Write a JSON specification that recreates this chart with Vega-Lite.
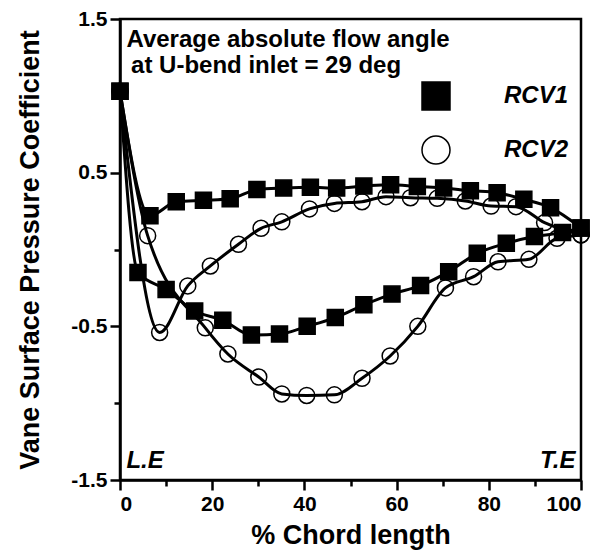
{
  "$schema": "https://vega.github.io/schema/vega-lite/v6.json",
  "width": 461,
  "height": 461,
  "autosize": {"type": "none"},
  "padding": {"left": 120, "top": 19, "right": 35, "bottom": 76},
  "background": "white",
  "config": {
    "font": "Liberation Sans",
    "view": {"stroke": "black", "strokeWidth": 2.5},
    "axis": {
      "grid": false,
      "domainColor": "black",
      "domainWidth": 2.5,
      "tickColor": "black",
      "tickWidth": 2.5,
      "labelFont": "Liberation Sans",
      "labelFontWeight": "bold",
      "labelFontSize": 21,
      "labelColor": "black",
      "titleFont": "Liberation Sans",
      "titleFontWeight": "bold",
      "titleFontSize": 27,
      "titleColor": "black"
    }
  },
  "datasets": {
    "curves": [
      {"s": "RCV2", "c": "RCV2-a", "x": 0, "y": 1.03},
      {"s": "RCV2", "c": "RCV2-a", "x": 6.0, "y": 0.09},
      {"s": "RCV2", "c": "RCV2-a", "x": 18.5, "y": -0.51},
      {"s": "RCV2", "c": "RCV2-a", "x": 23.4, "y": -0.68},
      {"s": "RCV2", "c": "RCV2-a", "x": 30.1, "y": -0.83},
      {"s": "RCV2", "c": "RCV2-a", "x": 35.1, "y": -0.94},
      {"s": "RCV2", "c": "RCV2-a", "x": 40.5, "y": -0.95},
      {"s": "RCV2", "c": "RCV2-a", "x": 46.5, "y": -0.946},
      {"s": "RCV2", "c": "RCV2-a", "x": 52.5, "y": -0.838},
      {"s": "RCV2", "c": "RCV2-a", "x": 58.6, "y": -0.693},
      {"s": "RCV2", "c": "RCV2-a", "x": 64.6, "y": -0.5},
      {"s": "RCV2", "c": "RCV2-a", "x": 70.6, "y": -0.25},
      {"s": "RCV2", "c": "RCV2-a", "x": 76.7, "y": -0.177},
      {"s": "RCV2", "c": "RCV2-a", "x": 82.0, "y": -0.08},
      {"s": "RCV2", "c": "RCV2-a", "x": 88.7, "y": -0.064},
      {"s": "RCV2", "c": "RCV2-a", "x": 94.8, "y": 0.073},
      {"s": "RCV2", "c": "RCV2-a", "x": 100, "y": 0.095},
      {"s": "RCV2", "c": "RCV2-b", "x": 0, "y": 1.03},
      {"s": "RCV2", "c": "RCV2-b", "x": 8.6, "y": -0.54},
      {"s": "RCV2", "c": "RCV2-b", "x": 14.7, "y": -0.237},
      {"s": "RCV2", "c": "RCV2-b", "x": 19.6, "y": -0.107},
      {"s": "RCV2", "c": "RCV2-b", "x": 25.7, "y": 0.034},
      {"s": "RCV2", "c": "RCV2-b", "x": 30.6, "y": 0.138},
      {"s": "RCV2", "c": "RCV2-b", "x": 35.1, "y": 0.18},
      {"s": "RCV2", "c": "RCV2-b", "x": 41.1, "y": 0.264},
      {"s": "RCV2", "c": "RCV2-b", "x": 46.5, "y": 0.3},
      {"s": "RCV2", "c": "RCV2-b", "x": 52.5, "y": 0.311},
      {"s": "RCV2", "c": "RCV2-b", "x": 57.7, "y": 0.344},
      {"s": "RCV2", "c": "RCV2-b", "x": 63.0, "y": 0.337},
      {"s": "RCV2", "c": "RCV2-b", "x": 68.8, "y": 0.333},
      {"s": "RCV2", "c": "RCV2-b", "x": 74.9, "y": 0.316},
      {"s": "RCV2", "c": "RCV2-b", "x": 80.5, "y": 0.283},
      {"s": "RCV2", "c": "RCV2-b", "x": 85.9, "y": 0.279},
      {"s": "RCV2", "c": "RCV2-b", "x": 92.1, "y": 0.175},
      {"s": "RCV2", "c": "RCV2-b", "x": 100, "y": 0.095},
      {"s": "RCV1", "c": "RCV1-p", "x": 0, "y": 1.03},
      {"s": "RCV1", "c": "RCV1-p", "x": 6.5, "y": 0.22},
      {"s": "RCV1", "c": "RCV1-p", "x": 12.2, "y": 0.31},
      {"s": "RCV1", "c": "RCV1-p", "x": 18.1, "y": 0.32},
      {"s": "RCV1", "c": "RCV1-p", "x": 23.9, "y": 0.33},
      {"s": "RCV1", "c": "RCV1-p", "x": 29.7, "y": 0.39},
      {"s": "RCV1", "c": "RCV1-p", "x": 35.5, "y": 0.4},
      {"s": "RCV1", "c": "RCV1-p", "x": 41.3, "y": 0.405},
      {"s": "RCV1", "c": "RCV1-p", "x": 47.0, "y": 0.4},
      {"s": "RCV1", "c": "RCV1-p", "x": 52.9, "y": 0.413},
      {"s": "RCV1", "c": "RCV1-p", "x": 58.7, "y": 0.422},
      {"s": "RCV1", "c": "RCV1-p", "x": 64.5, "y": 0.41},
      {"s": "RCV1", "c": "RCV1-p", "x": 70.2, "y": 0.4},
      {"s": "RCV1", "c": "RCV1-p", "x": 76.0, "y": 0.383},
      {"s": "RCV1", "c": "RCV1-p", "x": 81.8, "y": 0.37},
      {"s": "RCV1", "c": "RCV1-p", "x": 87.6, "y": 0.327},
      {"s": "RCV1", "c": "RCV1-p", "x": 93.4, "y": 0.272},
      {"s": "RCV1", "c": "RCV1-p", "x": 100, "y": 0.14},
      {"s": "RCV1", "c": "RCV1-s", "x": 0, "y": 1.03},
      {"s": "RCV1", "c": "RCV1-s", "x": 3.9, "y": -0.15},
      {"s": "RCV1", "c": "RCV1-s", "x": 10.0, "y": -0.26},
      {"s": "RCV1", "c": "RCV1-s", "x": 16.2, "y": -0.4},
      {"s": "RCV1", "c": "RCV1-s", "x": 22.3, "y": -0.46},
      {"s": "RCV1", "c": "RCV1-s", "x": 28.5, "y": -0.556},
      {"s": "RCV1", "c": "RCV1-s", "x": 34.6, "y": -0.55},
      {"s": "RCV1", "c": "RCV1-s", "x": 40.6, "y": -0.5},
      {"s": "RCV1", "c": "RCV1-s", "x": 46.7, "y": -0.443},
      {"s": "RCV1", "c": "RCV1-s", "x": 52.9, "y": -0.36},
      {"s": "RCV1", "c": "RCV1-s", "x": 59.0, "y": -0.29},
      {"s": "RCV1", "c": "RCV1-s", "x": 65.2, "y": -0.235},
      {"s": "RCV1", "c": "RCV1-s", "x": 71.3, "y": -0.144},
      {"s": "RCV1", "c": "RCV1-s", "x": 77.5, "y": -0.025},
      {"s": "RCV1", "c": "RCV1-s", "x": 83.8, "y": 0.04},
      {"s": "RCV1", "c": "RCV1-s", "x": 89.9, "y": 0.084},
      {"s": "RCV1", "c": "RCV1-s", "x": 96.0, "y": 0.11},
      {"s": "RCV1", "c": "RCV1-s", "x": 100, "y": 0.14}
    ],
    "note": [
      {"t": "Average absolute flow angle", "x": 1.4, "y": 1.318},
      {"t": "at U-bend inlet = 29 deg", "x": 2.4, "y": 1.149}
    ],
    "le": [{"t": "L.E", "x": 1.4, "y": -1.42}],
    "te": [{"t": "T.E", "x": 98.8, "y": -1.42}]
  },
  "layer": [
    {
      "data": {"name": "curves"},
      "mark": {"type": "line", "interpolate": "monotone", "stroke": "black", "strokeWidth": 3},
      "encoding": {
        "x": {
          "field": "x", "type": "quantitative",
          "scale": {"domain": [0, 100], "nice": false, "zero": false},
          "axis": {
            "title": "% Chord length",
            "values": [0, 10, 20, 30, 40, 50, 60, 70, 80, 90, 100],
            "labelExpr": "datum.value % 20 === 0 ? datum.label : ''",
            "tickSize": {"condition": {"test": "datum.value % 20 !== 0", "value": 6}, "value": 10},
            "labelPadding": 3,
            "titlePadding": 8
          }
        },
        "y": {
          "field": "y", "type": "quantitative",
          "scale": {"domain": [-1.5, 1.5], "nice": false, "zero": false},
          "axis": {
            "title": "Vane Surface Pressure Coefficient",
            "values": [-1.5, -1, -0.5, 0, 0.5, 1, 1.5],
            "labelExpr": "abs(datum.value*2) % 2 === 1 ? (datum.value < 0 ? '-' : '') + format(abs(datum.value), '.1f') : ''",
            "tickSize": {"condition": {"test": "abs(datum.value*2) % 2 !== 1", "value": 6}, "value": 10},
            "labelPadding": 3,
            "titlePadding": 26
          }
        },
        "detail": {"field": "c"}
      }
    },
    {
      "data": {"name": "curves"},
      "mark": {"type": "point", "size": 256, "stroke": "black", "strokeWidth": 1.5, "opacity": 1},
      "encoding": {
        "x": {"field": "x", "type": "quantitative"},
        "y": {"field": "y", "type": "quantitative"},
        "shape": {
          "field": "s", "type": "nominal",
          "scale": {"domain": ["RCV1", "RCV2"], "range": ["square", "circle"]},
          "legend": {
            "title": null, "orient": "none", "legendX": 301, "legendY": 62,
            "symbolSize": 784,
            "labelFont": "Liberation Sans", "labelFontSize": 24, "labelFontWeight": "bold", "labelFontStyle": "italic",
            "labelColor": "black", "labelOffset": 53, "rowPadding": 20, "padding": 0,
            "encode": {"symbols": {"update": {"stroke": {"value": "black"}, "strokeWidth": {"value": 1.5}}}}
          }
        },
        "fill": {
          "field": "s", "type": "nominal",
          "scale": {"domain": ["RCV1", "RCV2"], "range": ["black", "transparent"]},
          "legend": {
            "title": null, "orient": "none", "legendX": 301, "legendY": 62,
            "symbolSize": 784,
            "labelFont": "Liberation Sans", "labelFontSize": 24, "labelFontWeight": "bold", "labelFontStyle": "italic",
            "labelColor": "black", "labelOffset": 53, "rowPadding": 20, "padding": 0,
            "encode": {"symbols": {"update": {"stroke": {"value": "black"}, "strokeWidth": {"value": 1.5}}}}
          }
        }
      }
    },
    {
      "data": {"name": "note"},
      "mark": {"type": "text", "align": "left", "baseline": "alphabetic", "font": "Liberation Sans", "fontWeight": "bold", "fontSize": 24, "color": "black"},
      "encoding": {
        "x": {"field": "x", "type": "quantitative"},
        "y": {"field": "y", "type": "quantitative"},
        "text": {"field": "t"}
      }
    },
    {
      "data": {"name": "le"},
      "mark": {"type": "text", "align": "left", "baseline": "alphabetic", "font": "Liberation Sans", "fontWeight": "bold", "fontStyle": "italic", "fontSize": 24, "color": "black"},
      "encoding": {
        "x": {"field": "x", "type": "quantitative"},
        "y": {"field": "y", "type": "quantitative"},
        "text": {"field": "t"}
      }
    },
    {
      "data": {"name": "te"},
      "mark": {"type": "text", "align": "right", "baseline": "alphabetic", "font": "Liberation Sans", "fontWeight": "bold", "fontStyle": "italic", "fontSize": 24, "color": "black"},
      "encoding": {
        "x": {"field": "x", "type": "quantitative"},
        "y": {"field": "y", "type": "quantitative"},
        "text": {"field": "t"}
      }
    }
  ]
}
